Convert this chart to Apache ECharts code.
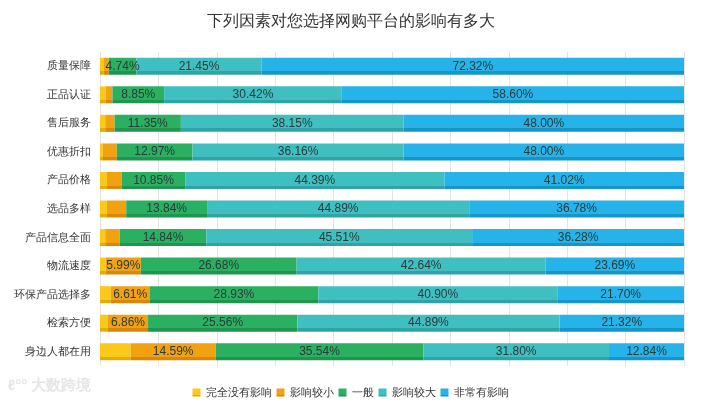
<!DOCTYPE html>
<html>
<head>
<meta charset="utf-8">
<script src="https://cdn.jsdelivr.net/npm/echarts@6/dist/echarts.min.js"></script>
<style>
  html, body { margin: 0; padding: 0; background: #fff; }
  #chart { width: 701px; height: 405px; }
</style>
</head>
<body>
<div id="chart"></div>
<script>
const categories = ['质量保障', '正品认证', '售后服务', '优惠折扣', '产品价格', '选品多样', '产品信息全面', '物流速度', '环保产品选择多', '检索方便', '身边人都在用'];
const seriesNames = ['完全没有影响', '影响较小', '一般', '影响较大', '非常有影响'];

const noEffect = [0.60, 1.00, 0.90, 0.50, 1.20, 1.20, 0.90, 1.00, 1.86, 1.37, 5.23];
const smallEffect = [0.89, 1.13, 1.60, 2.37, 2.54, 3.29, 2.47, 5.99, 6.61, 6.86, 14.59];
const normal = [4.74, 8.85, 11.35, 12.97, 10.85, 13.84, 14.84, 26.68, 28.93, 25.56, 35.54];
const bigEffect = [21.45, 30.42, 38.15, 36.16, 44.39, 44.89, 45.51, 42.64, 40.90, 44.89, 31.80];
const veryBig = [72.32, 58.60, 48.00, 48.00, 41.02, 36.78, 36.28, 23.69, 21.70, 21.32, 12.84];

const colors = ['#fbc91a', '#f2a210', '#2bb061', '#40bfc1', '#26b3ea'];
const darkColors = ['#e0ad0c', '#d7880a', '#1f9550', '#30a3a6', '#1696c8'];

function barColor(i) {
  return new echarts.graphic.LinearGradient(0, 0, 0, 1, [
    { offset: 0, color: colors[i] },
    { offset: 0.8, color: colors[i] },
    { offset: 0.8, color: darkColors[i] },
    { offset: 1, color: darkColors[i] },
  ]);
}

const dataSets = [noEffect, smallEffect, normal, bigEffect, veryBig];

const chart = echarts.init(document.getElementById('chart'));
chart.setOption({
  animation: false,
  color: colors,
  title: {
    text: '下列因素对您选择网购平台的影响有多大',
    left: 'center',
    top: 9,
    textStyle: { color: '#333', fontSize: 16, fontWeight: 'normal' },
  },
  legend: {
    top: 382,
    left: 'center',
    itemWidth: 8,
    itemHeight: 8,
    itemGap: 5,
    icon: 'rect',
    textStyle: { color: '#333', fontSize: 11 },
    data: seriesNames,
  },
  grid: { left: 100, right: 17, top: 52, bottom: 39 },
  xAxis: {
    type: 'value',
    min: 0,
    max: 100,
    interval: 10,
    axisLabel: { show: false },
    axisLine: { show: false },
    axisTick: { show: false },
    splitLine: { lineStyle: { color: '#e4e4e4' } },
  },
  yAxis: {
    type: 'category',
    inverse: true,
    data: categories,
    axisLine: { show: false },
    axisTick: { show: false },
    axisLabel: { color: '#333', fontSize: 11, margin: 9 },
  },
  graphic: [{
    type: 'text',
    left: 8,
    top: 378,
    style: { text: 'ℓ°° 大数跨境', fill: '#e6e6e6', fontSize: 15, fontWeight: 'bold' },
  }],
  series: seriesNames.map((name, i) => ({
    name,
    type: 'bar',
    stack: 'total',
    barWidth: 17,
    itemStyle: { color: barColor(i) },
    label: {
      show: i > 0,
      position: 'inside',
      color: '#2a3a3a',
      fontSize: 12,
      formatter: p => (p.value >= 4 ? p.value.toFixed(2) + '%' : ''),
    },
    data: dataSets[i],
  })),
});
</script>
</body>
</html>
